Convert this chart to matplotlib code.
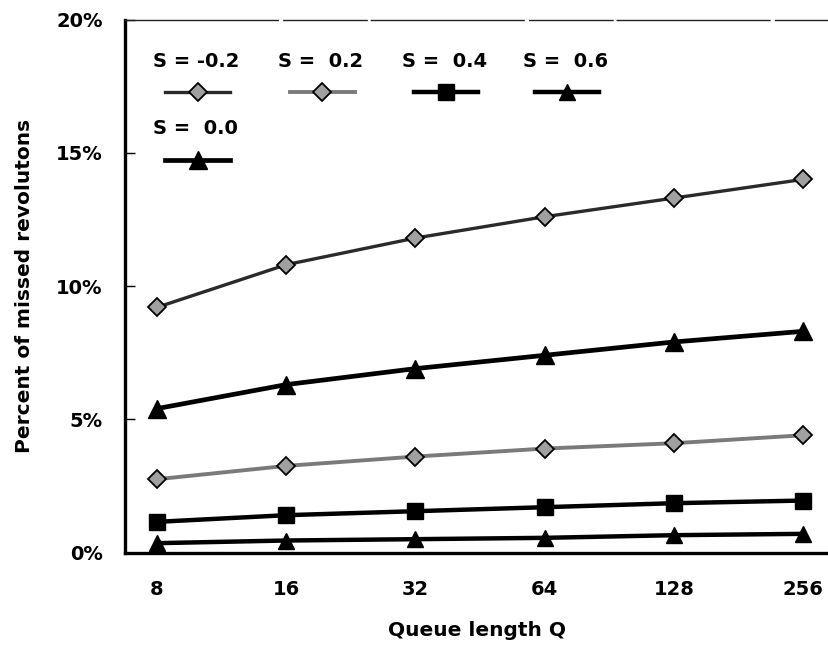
import matplotlib
matplotlib.use('Agg')
import matplotlib.pyplot as plt
from matplotlib.lines import Line2D
from matplotlib.ticker import FuncFormatter, MultipleLocator

plt.rcParams['font.family'] = ['DejaVu Sans']
plt.rcParams['font.weight'] = 'bold'

queue_lengths = ['8', '16', '32', '64', '128', '256']
labels = ['S = -0.2', 'S =  0.2', 'S =  0.4', 'S =  0.6', 'S =  0.0']
s_m02 = [9.2, 10.8, 11.8, 12.6, 13.3, 14.0]
s_00 = [5.4, 6.3, 6.9, 7.4, 7.9, 8.3]
s_02 = [2.75, 3.25, 3.6, 3.9, 4.1, 4.4]
s_04 = [1.15, 1.4, 1.55, 1.7, 1.85, 1.95]
s_06 = [0.35, 0.45, 0.5, 0.55, 0.65, 0.7]

series = [s_m02, s_02, s_04, s_06, s_00]
styles = [
    dict(color='#2a2a2a', lw=2.4, marker='D', ms=9, mfc='#a0a0a0', mec='black', mew=1.3),
    dict(color='#7a7a7a', lw=2.8, marker='D', ms=9, mfc='#a0a0a0', mec='black', mew=1.3),
    dict(color='black', lw=3.2, marker='s', ms=12, mfc='black', mec='black'),
    dict(color='black', lw=3.2, marker='^', ms=12, mfc='black', mec='black'),
    dict(color='black', lw=3.4, marker='^', ms=13, mfc='black', mec='black'),
]

fig = plt.figure(figsize=(8.29, 6.45), dpi=100)
ax = fig.add_axes([125 / 829, 92.5 / 645, 704 / 829, 533 / 645])

x = range(len(queue_lengths))
for vals, st in zip(series, styles):
    ax.plot(x, vals, clip_on=False, **st)

ax.set_xlim(-0.248, 5.2)
ax.set_ylim(0, 20)
ax.set_xticks(list(x))
ax.set_xticklabels(queue_lengths)
ax.yaxis.set_major_locator(MultipleLocator(5))
ax.yaxis.set_major_formatter(FuncFormatter(lambda v, p: '%d%%' % v))
ax.tick_params(axis='x', length=0, labelsize=14, pad=20)
ax.tick_params(axis='y', direction='in', length=7, width=1, labelsize=14, pad=16)

ax.spines['right'].set_visible(False)
ax.spines['left'].set_linewidth(2.4)
ax.spines['bottom'].set_linewidth(2.4)
ax.spines['top'].set_color('#222222')
ax.spines['top'].set_linewidth(1)
ax.spines['top'].set_linestyle((0, (110, 4, 60, 3)))

ax.set_xlabel('Queue length Q', fontsize=14.5, fontweight='bold', labelpad=16)
ax.set_ylabel('Percent of missed revolutons', fontsize=14.5, fontweight='bold', labelpad=16)

# legend drawn by hand: label above each line sample
leg_x = [0.040, 0.217, 0.393, 0.565, 0.040]
leg_y = [0.922, 0.922, 0.922, 0.922, 0.795]
for lab, st, lx, ly in zip(labels, styles, leg_x, leg_y):
    ax.text(lx, ly, lab, transform=ax.transAxes, fontsize=14, fontweight='bold',
            va='center', ha='left')
    ax.add_line(Line2D([lx + 0.017, lx + 0.063, lx + 0.109], [ly - 0.058] * 3,
                       transform=ax.transAxes, markevery=[1], **st))

fig.savefig('out.png', dpi=100)
